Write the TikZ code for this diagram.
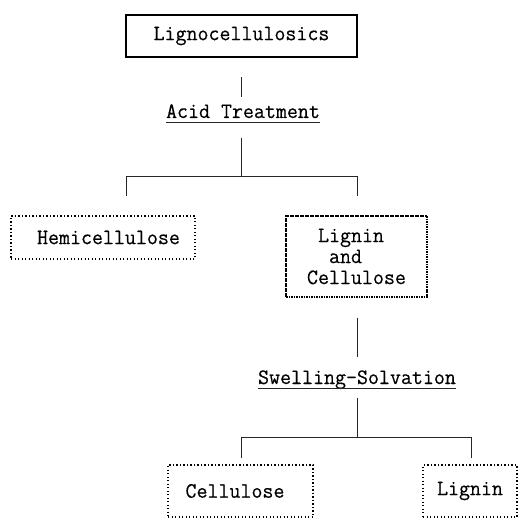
\documentclass[tikz,border=0pt]{standalone}
\usepackage{fontspec}
\setmonofont[FakeBold=0.4,FakeStretch=0.97]{Latin Modern Mono}
\begin{document}
\begin{tikzpicture}[x=1pt,y=-1pt,
  every node/.style={font=\ttfamily\fontsize{22}{21}\selectfont, inner sep=0pt, outer sep=0pt},
  link/.style={line width=0.9pt, draw=black!85},
  solidbox/.style={draw, line width=2.4pt, minimum width=231pt, minimum height=42pt},
  dotbox/.style={draw, line width=2pt, dash pattern=on 1.3pt off 2.2pt},
  densebox/.style={draw, line width=2.3pt, dash pattern=on 1.6pt off 0.9pt},
  label/.style={anchor=base}
]
\useasboundingbox (0,0) rectangle (519,518);

\node[solidbox] (top) at (241.5,36) {Lignocellulosics};
\node[label] (acid) at (243,118) {Acid Treatment};
\node[dotbox, minimum width=184pt, minimum height=43pt] (hemi) at (103,237.5) {\hphantom{L}Hemicellulose};
\node[densebox, minimum width=141pt, minimum height=81pt, align=left] (lc) at (356.5,256.5)
  {\hphantom{L}Lignin\\[0pt]\hphantom{LL}and\\[0pt]Cellulose};
\node[label] (swell) at (357,384) {Swelling-Solvation};
\node[dotbox, minimum width=145pt, minimum height=52pt] (cell) at (240.5,491) {Cellulose\hphantom{L}};
\node[dotbox, minimum width=94pt, minimum height=52pt] (lig) at (470,491) {Lignin};

% underlines
\draw[link] ([yshift=-4pt]acid.base west) -- ([yshift=-4pt]acid.base east);
\draw[link] ([yshift=-4pt]swell.base west) -- ([yshift=-4pt]swell.base east);

% coordinates
\coordinate (a1) at (241,77);
\coordinate (a2) at (241,97);
\coordinate (b1) at (241,138);
\coordinate (b2) at (241,176);
\coordinate (bl) at (126,176);
\coordinate (br) at (357,176);
\coordinate (bld) at (126,196);
\coordinate (brd) at (357,196);
\coordinate (c1) at (357,318);
\coordinate (c2) at (357,357);
\coordinate (d1) at (357,398);
\coordinate (d2) at (357,437);
\coordinate (dl) at (241,437);
\coordinate (dr) at (471,437);
\coordinate (dld) at (241,458);
\coordinate (drd) at (471,458);

\draw[link] (a1) -- (a2);
\draw[link] (b1) -- (b2);
\draw[link] (bld) -- (bl) -- (br) -- (brd);
\draw[link] (c1) -- (c2);
\draw[link] (d1) -- (d2);
\draw[link] (dld) -- (dl) -- (dr) -- (drd);
\end{tikzpicture}
\end{document}
